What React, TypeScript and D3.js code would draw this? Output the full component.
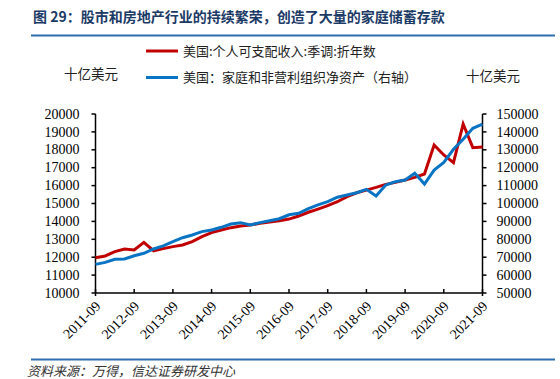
import React from "react";
import * as d3 from "d3";

const quarters: string[] = [];
for (let y = 2011; y <= 2021; y++) {
  for (const m of ["03", "06", "09", "12"]) {
    const q = `${y}-${m}`;
    if (q >= "2011-09" && q <= "2021-09") quarters.push(q);
  }
}

const income = [
  11970, 12070, 12310, 12460, 12400, 12830, 12360, 12480, 12590, 12680,
  12870, 13150, 13370, 13520, 13650, 13740, 13800, 13890, 13970, 14040,
  14130, 14300, 14510, 14690, 14880, 15100, 15380, 15600, 15750, 15900,
  16070, 16180, 16310, 16460, 16650, 18270, 17710, 17280, 19440, 18120,
  18160,
];

const netWorth = [
  66000, 67100, 68800, 69000, 70800, 72200, 74600, 76300, 78700, 80900,
  82400, 84300, 85200, 86700, 88500, 89300, 88000, 89300, 90400, 91500,
  93700, 94500, 97100, 99200, 101000, 103500, 104700, 106000, 107900, 104200,
  110300, 112200, 113100, 116900, 110900, 118700, 123000, 130300, 135900, 142000,
  144400,
];

const leftTicks = d3.range(10000, 20001, 1000);
const rightTicks = d3.range(50000, 150001, 10000);
const xTickLabels = [
  "2011-09", "2012-09", "2013-09", "2014-09", "2015-09", "2016-09",
  "2017-09", "2018-09", "2019-09", "2020-09", "2021-09",
];

const title = "图 29：股市和房地产行业的持续繁荣，创造了大量的家庭储蓄存款";
const legend1 = "美国:个人可支配收入:季调:折年数";
const legend2 = "美国：家庭和非营利组织净资产（右轴）";
const unit = "十亿美元";
const source = "资料来源：万得，信达证券研发中心";

const W = 560, H = 379;
const L = 95.5, R = 482.5, T = 114, B = 293;
const CJK = '"Noto Sans CJK SC", sans-serif';
const SERIF = '"Liberation Serif", "Times New Roman", serif';
const RED = "#c00000";
const BLUE = "#0a74c4";

export default function App() {
  const x = d3.scalePoint<string>().domain(quarters).range([L, R]);
  const yL = d3.scaleLinear().domain([10000, 20000]).range([B, T]);
  const yR = d3.scaleLinear().domain([50000, 150000]).range([B, T]);

  const redLine = d3
    .line<number>()
    .x((_, i) => x(quarters[i]) as number)
    .y((d) => yL(d));
  const blueLine = d3
    .line<number>()
    .x((_, i) => x(quarters[i]) as number)
    .y((d) => yR(d));

  return (
    <svg
      width={W}
      height={H}
      style={{ position: "absolute", left: 0, top: 0, background: "#fff" }}
    >
      <rect width={W} height={H} fill="#fff" />
      <text
        x={33}
        y={22}
        fontFamily={CJK}
        fontSize={14}
        fontWeight="bold"
        fill="#1b3a66"
      >
        {title}
      </text>
      <line x1={31} x2={555} y1={35.5} y2={35.5} stroke="#2f6fad" strokeWidth={2} />

      {/* legend */}
      <line x1={146} x2={178} y1={51} y2={51} stroke={RED} strokeWidth={3} />
      <text x={183} y={51} dy="0.36em" fontFamily={CJK} fontSize={13} fill="#222">
        {legend1}
      </text>
      <line x1={146} x2={178} y1={77.5} y2={77.5} stroke={BLUE} strokeWidth={3} />
      <text x={183} y={77.5} dy="0.36em" fontFamily={CJK} fontSize={13} fill="#222">
        {legend2}
      </text>
      <text x={64} y={74} dy="0.36em" fontFamily={CJK} fontSize={13.5} fill="#222">
        {unit}
      </text>
      <text x={466} y={76} dy="0.36em" fontFamily={CJK} fontSize={13.5} fill="#222">
        {unit}
      </text>

      {/* axes */}
      <g stroke="#000" strokeWidth={1.5} fill="none">
        <line x1={L} x2={L} y1={T} y2={B + 3} />
        <line x1={R} x2={R} y1={T} y2={B + 3} />
        <line x1={L} x2={R} y1={B} y2={B} />
        {leftTicks.map((t) => (
          <line key={"lt" + t} x1={L - 4} x2={L} y1={yL(t)} y2={yL(t)} />
        ))}
        {rightTicks.map((t) => (
          <line key={"rt" + t} x1={R} x2={R + 4} y1={yR(t)} y2={yR(t)} />
        ))}
        {xTickLabels.map((t) => (
          <line
            key={"xt" + t}
            x1={x(t) as number}
            x2={x(t) as number}
            y1={B - 4}
            y2={B}
          />
        ))}
      </g>
      <g fontFamily={SERIF} fontSize={14} fill="#000">
        {leftTicks.map((t) => (
          <text key={"ll" + t} x={L - 16} y={yL(t)} dy="0.33em" textAnchor="end">
            {t}
          </text>
        ))}
        {rightTicks.map((t) => (
          <text key={"rl" + t} x={R + 14} y={yR(t)} dy="0.33em" textAnchor="start">
            {t}
          </text>
        ))}
        {xTickLabels.map((t) => {
          const px = (x(t) as number) + 3;
          const py = B + 11;
          return (
            <text
              key={"xl" + t}
              x={px}
              y={py}
              textAnchor="end"
              dy="0.3em"
              transform={`rotate(-45 ${px} ${py})`}
            >
              {t}
            </text>
          );
        })}
      </g>

      {/* series */}
      <path d={redLine(income) || ""} fill="none" stroke={RED} strokeWidth={3} strokeLinejoin="miter" />
      <path d={blueLine(netWorth) || ""} fill="none" stroke={BLUE} strokeWidth={3} strokeLinejoin="miter" />

      <line x1={31} x2={555} y1={359.5} y2={359.5} stroke="#2f6fad" strokeWidth={2} />
      <text
        x={27}
        y={376}
        fontFamily={CJK}
        fontSize={13}
        fontStyle="italic"
        fill="#333"
      >
        {source}
      </text>
    </svg>
  );
}
